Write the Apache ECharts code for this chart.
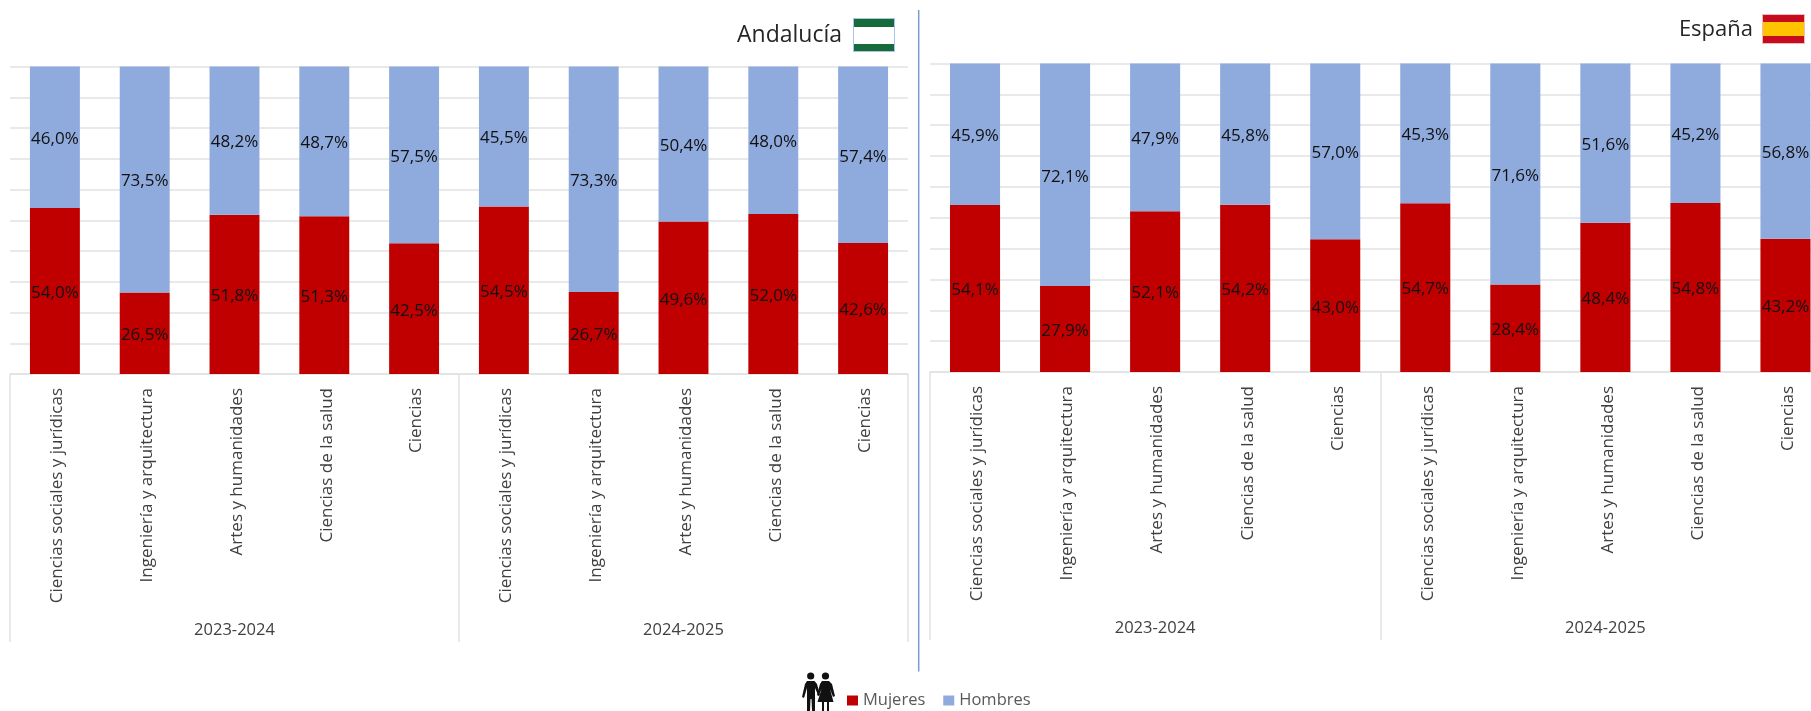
<!DOCTYPE html>
<html><head><meta charset="utf-8">
<style>html,body{margin:0;padding:0;background:#fff;overflow:hidden}#c{width:1811px;height:711px}</style>
<script src="https://cdn.jsdelivr.net/npm/echarts@6/dist/echarts.min.js"></script>
</head><body><div id="c"></div>
<script>
const categories = ["Ciencias sociales y jurídicas","Ingeniería y arquitectura","Artes y humanidades","Ciencias de la salud","Ciencias",
                    "Ciencias sociales y jurídicas","Ingeniería y arquitectura","Artes y humanidades","Ciencias de la salud","Ciencias"];
const years = ["2023-2024","2024-2025"];
const andaluciaMujeres = [54.0,26.5,51.8,51.3,42.5,54.5,26.7,49.6,52.0,42.6];
const andaluciaHombres = [46.0,73.5,48.2,48.7,57.5,45.5,73.3,50.4,48.0,57.4];
const espanaMujeres = [54.1,27.9,52.1,54.2,43.0,54.7,28.4,48.4,54.8,43.2];
const espanaHombres = [45.9,72.1,47.9,45.8,57.0,45.3,71.6,51.6,45.2,56.8];

const FONT = '"Open Sans"';
const RED = '#C00000', BLUE = '#8FAADC', GRID = '#E2E2E2';
const fmt = p => p.value.toFixed(1).replace('.', ',') + '%';

function catAxis(g){ return {
  type:'category', gridIndex:g, data:categories, position:'bottom',
  axisLine:{show:true,lineStyle:{color:GRID,width:1.5}}, axisTick:{show:false},
  axisLabel:{rotate:90,interval:0,margin:14,verticalAlign:'top',lineHeight:5,fontFamily:FONT,fontSize:17,color:'#404040'}
};}
function yearAxis(g){ return {
  type:'category', gridIndex:g, data:years, position:'bottom',
  axisLine:{show:false}, axisTick:{show:true,length:268,lineStyle:{color:GRID,width:1.5}},
  axisLabel:{interval:0,margin:248,fontFamily:FONT,fontSize:16.5,color:'#404040'}
};}
function valAxis(g){ return {
  type:'value', gridIndex:g, min:0, max:100, interval:10,
  axisLine:{show:false}, axisTick:{show:false}, axisLabel:{show:false},
  splitLine:{show:true,lineStyle:{color:GRID,width:1.5}}
};}
function bar(name,data,color,axisX,axisY,stack){ return {
  name, type:'bar', stack, data, xAxisIndex:axisX, yAxisIndex:axisY, barWidth:'55.6%',
  itemStyle:{color}, label:{show:true,position:'inside',offset:[0,2],formatter:fmt,fontFamily:FONT,fontSize:17,color:'#111'}
};}
function rect(x,y,w,h,fill){ return {type:'rect',silent:true,shape:{x,y,width:w,height:h},style:{fill}}; }
function poly(points){ return {type:'polygon',silent:true,shape:{points},style:{fill:'#111'}}; }
function head(cx,cy){ return {type:'circle',silent:true,shape:{cx,cy,r:3.6},style:{fill:'#111'}}; }

const option = {
  animation:false,
  backgroundColor:'#fff',
  grid:[
    {left:10,width:898,top:66.5,height:307.5,outerBoundsMode:'none'},
    {left:930,width:900.5,top:63.5,height:308.5,outerBoundsMode:'none'}
  ],
  xAxis:[catAxis(0),yearAxis(0),catAxis(1),yearAxis(1)],
  yAxis:[valAxis(0),valAxis(1)],
  legend:{
    data:['Mujeres','Hombres'], left:842, top:687, itemWidth:11, itemHeight:10, itemGap:18,
    icon:'rect', textStyle:{fontFamily:FONT,fontSize:16.5,color:'#595959'}
  },
  series:[
    bar('Mujeres',andaluciaMujeres,RED,0,0,'a'),
    bar('Hombres',andaluciaHombres,BLUE,0,0,'a'),
    bar('Mujeres',espanaMujeres,RED,2,1,'e'),
    bar('Hombres',espanaHombres,BLUE,2,1,'e')
  ],
  graphic:[
    {type:'text',silent:true,style:{text:'Andalucía',x:842,y:35,align:'right',verticalAlign:'middle',font:'23px '+FONT,fill:'#262626'}},
    {type:'text',silent:true,style:{text:'España',x:1753,y:29.5,align:'right',verticalAlign:'middle',font:'22px '+FONT,fill:'#262626'}},
    rect(853,18,42,34,'#A9C4E4'),
    rect(854,19,40,32,'#fff'),
    rect(854,19,40,8,'#176B3A'),
    rect(854,44,40,7,'#176B3A'),
    rect(1762,14,43,30,'#F2B8BE'),
    rect(1763,15,41,7,'#C60B1E'),
    rect(1763,22,41,14,'#FFC400'),
    rect(1763,36,41,7,'#C60B1E'),
    {type:'line',silent:true,shape:{x1:918.7,y1:10,x2:918.7,y2:671.5},style:{stroke:'#7C9AD6',lineWidth:1.5}},
    head(810.7,676), head(825.5,676),
    poly([[807,681],[814.5,681],[817,684],[820,695],[818.5,696],[815,688],[815,711],[812,711],[811.5,699],[810.5,699],[810,711],[807,711],[807,688],[804,698],[802,697],[805,684]]),
    poly([[822,681],[829,681],[832,684],[835,696],[833,697],[830,689],[833.5,702],[829,702],[829,711],[827,711],[827,702],[824,702],[824,711],[822,711],[822,702],[817.5,702],[821.5,689],[818.5,696],[817,695],[820,684]])
  ]
};
echarts.init(document.getElementById('c'),null,{renderer:'canvas'}).setOption(option);
</script></body></html>
